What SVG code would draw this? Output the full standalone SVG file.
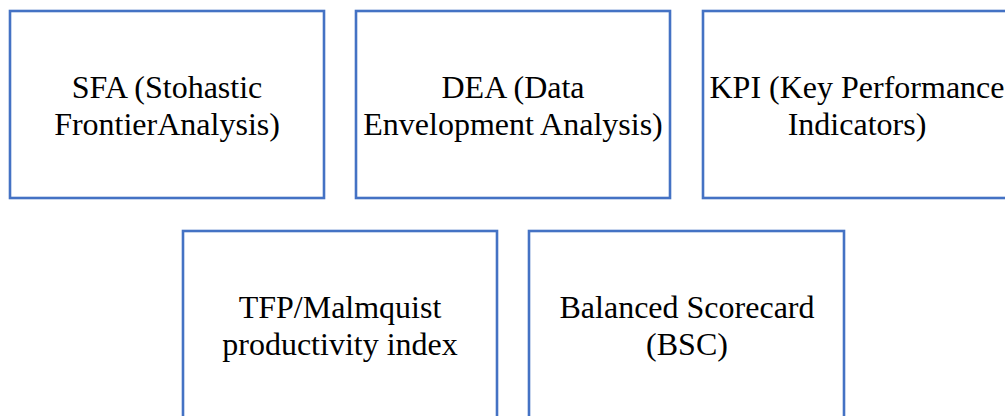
<svg xmlns="http://www.w3.org/2000/svg" width="1005" height="416" viewBox="0 0 1005 416">
<style>
.box{fill:#ffffff;stroke:#4472C4;stroke-width:2.6}
.t{font-family:"Liberation Serif","Times New Roman",serif;font-size:32px;fill:#000000;text-anchor:middle}
</style>
<rect width="1005" height="416" fill="#ffffff"/>
<g id="connectors"></g>
<g id="sfa">
<rect class="box" x="10" y="11" width="314" height="187"/>
<text class="t" x="167" y="98">SFA (Stohastic</text>
<text class="t" x="167" y="135">FrontierAnalysis)</text>
</g>
<g id="dea">
<rect class="box" x="356" y="11" width="314" height="187"/>
<text class="t" x="513" y="98">DEA (Data</text>
<text class="t" x="513" y="135">Envelopment Analysis)</text>
</g>
<g id="kpi">
<rect class="box" x="703" y="11" width="314" height="187"/>
<text class="t" x="857" y="98">KPI (Key Performance</text>
<text class="t" x="857" y="135">Indicators)</text>
</g>
<g id="tfp">
<rect class="box" x="183" y="231" width="314" height="200"/>
<text class="t" x="340" y="318">TFP/Malmquist</text>
<text class="t" x="340" y="355">productivity index</text>
</g>
<g id="bsc">
<rect class="box" x="529" y="231" width="315" height="200"/>
<text class="t" x="687" y="318">Balanced Scorecard</text>
<text class="t" x="687" y="355">(BSC)</text>
</g>
</svg>
